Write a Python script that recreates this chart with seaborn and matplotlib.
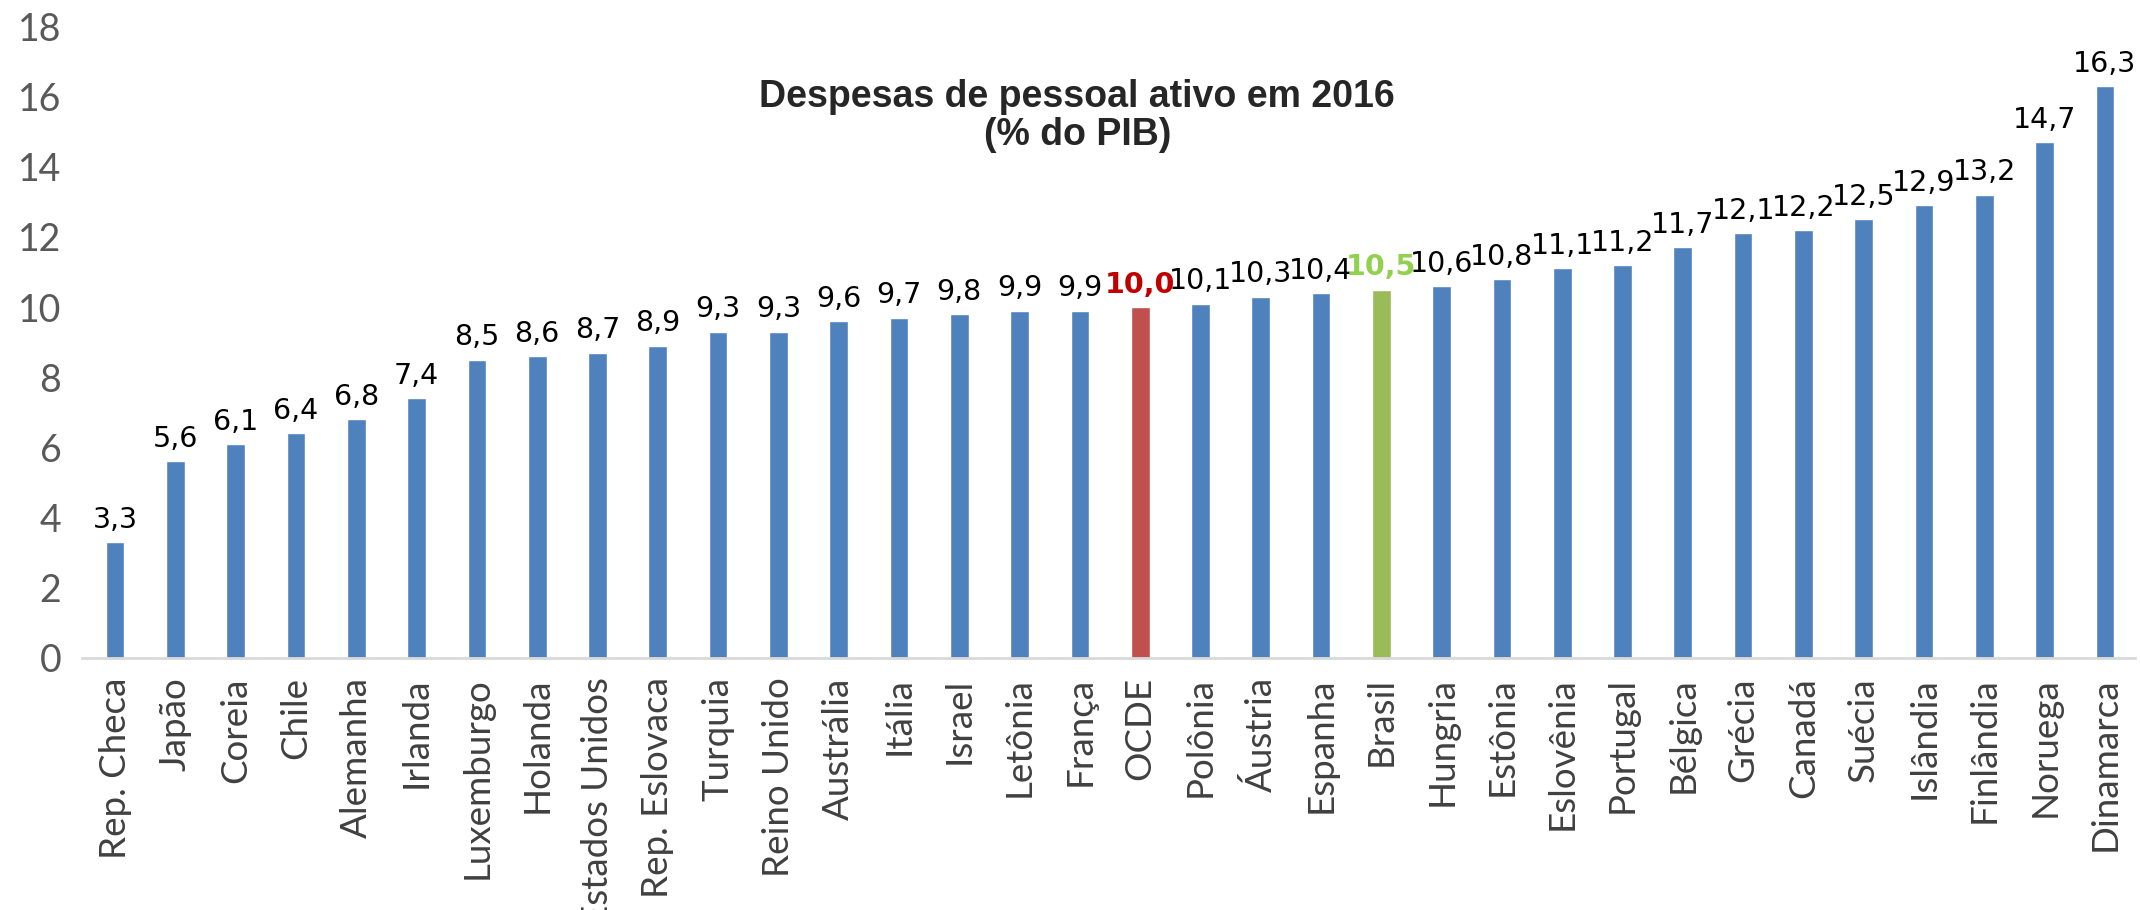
import seaborn as sns
import matplotlib.pyplot as plt
import pandas as pd

paises = ["Rep. Checa", "Japão", "Coreia", "Chile", "Alemanha", "Irlanda",
          "Luxemburgo", "Holanda", "Estados Unidos", "Rep. Eslovaca", "Turquia",
          "Reino Unido", "Austrália", "Itália", "Israel", "Letônia", "França",
          "OCDE", "Polônia", "Áustria", "Espanha", "Brasil", "Hungria", "Estônia",
          "Eslovênia", "Portugal", "Bélgica", "Grécia", "Canadá", "Suécia",
          "Islândia", "Finlândia", "Noruega", "Dinamarca"]
despesas = [3.3, 5.6, 6.1, 6.4, 6.8, 7.4, 8.5, 8.6, 8.7, 8.9, 9.3, 9.3, 9.6,
            9.7, 9.8, 9.9, 9.9, 10.0, 10.1, 10.3, 10.4, 10.5, 10.6, 10.8,
            11.1, 11.2, 11.7, 12.1, 12.2, 12.5, 12.9, 13.2, 14.7, 16.3]
yticks = [0, 2, 4, 6, 8, 10, 12, 14, 16, 18]

destaque_barra = {"OCDE": "#C0504D", "Brasil": "#9BBB59"}
destaque_texto = {"OCDE": "#C00000", "Brasil": "#92D050"}
azul = "#4F81BD"

df = pd.DataFrame({"pais": paises, "valor": despesas})
cores = {p: destaque_barra.get(p, azul) for p in paises}

sns.set_theme(style="white")
plt.rcParams["font.family"] = ["Lato", "DejaVu Sans"]

fig = plt.figure(figsize=(21.4, 9.1), dpi=100)
ax = fig.add_axes([0.0397, 0.277, 0.958, 0.694])

sns.barplot(data=df, x="pais", y="valor", hue="pais", palette=cores,
            width=0.31, legend=False, ax=ax, saturation=1)

# rotulos de valor
for i, (p, v) in enumerate(zip(paises, despesas)):
    txt = f"{v:.1f}".replace(".", ",")
    bold = p in destaque_texto
    ax.annotate(txt, (i, v), xytext=(0, 6), textcoords="offset points",
                ha="center", va="bottom", fontsize=20.5,
                color=destaque_texto.get(p, "black"),
                fontweight="bold" if bold else "normal",
                family=["DejaVu Sans"])

ax.set_xlim(-0.5, len(paises) - 0.5)
ax.set_ylim(0, 18)
ax.set_yticks(yticks)
ax.set_yticklabels([str(t) for t in yticks], fontsize=27, color="#595959")
ax.tick_params(axis="y", length=0, pad=17)
ax.tick_params(axis="x", length=0, pad=14)
plt.xticks(rotation=90, fontsize=26.5, color="#404040")
ax.set_xlabel("")
ax.set_ylabel("")

for s in ["top", "right", "left"]:
    ax.spines[s].set_visible(False)
ax.spines["bottom"].set_color("#D9D9D9")
ax.spines["bottom"].set_linewidth(2)
ax.spines["bottom"].set_bounds(-0.55, len(paises) - 0.5)

ax.text(0.484, 0.858, "Despesas de pessoal ativo em 2016\n(% do PIB)",
        transform=ax.transAxes, ha="center", va="center", fontsize=27,
        fontweight="bold", family=["Liberation Sans"], linespacing=1.05)

fig.savefig("out.png", dpi=100)
